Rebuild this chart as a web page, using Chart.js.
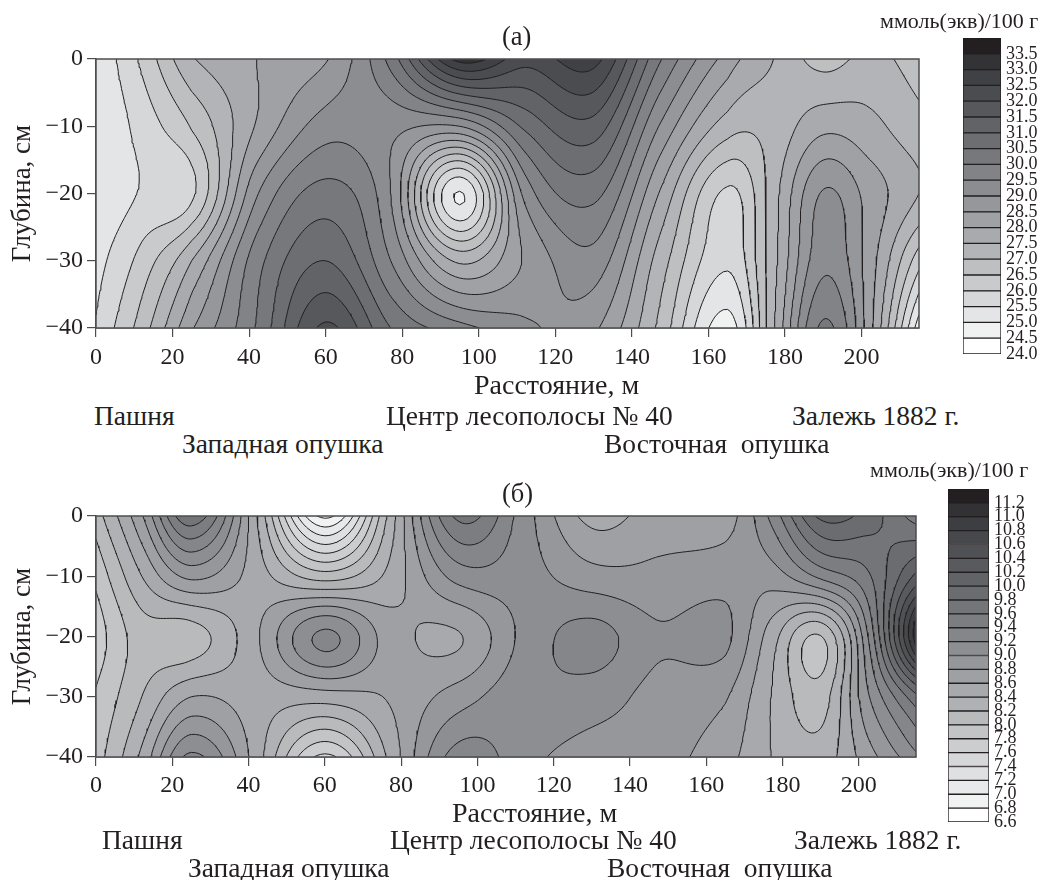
<!DOCTYPE html>
<html>
<head>
<meta charset="utf-8">
<script src="https://cdn.jsdelivr.net/npm/chart.js@4"></script>
<style>
  body { margin: 0; background: #fff; width: 1043px; height: 880px; overflow: hidden; position: relative; }
  canvas { position: absolute; }
  .t { position: absolute; font-family: "Liberation Serif", serif; color: #231f20; white-space: pre; line-height: 1; transform: translateY(-50%); font-size: 27.5px; }
  .n { font-size: 26.5px; }
  .d { font-size: 28px; }
  .u { font-size: 22px; }
</style>
</head>
<body>
<canvas id="panel-a" width="930" height="398" style="left:0;top:0"></canvas>
<canvas id="bar-a" width="93" height="350" style="left:950px;top:20px"></canvas>
<canvas id="panel-b" width="930" height="356" style="left:0;top:470px"></canvas>
<canvas id="bar-b" width="108" height="370" style="left:935px;top:470px"></canvas>

<div class="t n" style="left:502px;top:36px">(а)</div>
<div class="t u" style="left:880px;top:21px">ммоль(экв)/100 г</div>
<div class="t d" style="left:474px;top:385px">Расстояние, м</div>
<div class="t" style="left:94px;top:416px">Пашня</div>
<div class="t" style="left:386px;top:416px">Центр лесополосы № 40</div>
<div class="t" style="left:792px;top:416px">Залежь 1882 г.</div>
<div class="t" style="left:182px;top:444px">Западная опушка</div>
<div class="t" style="left:604px;top:444px">Восточная  опушка</div>

<div class="t n" style="left:502px;top:493px">(б)</div>
<div class="t u" style="left:870px;top:470px">ммоль(экв)/100 г</div>
<div class="t d" style="left:452px;top:813px">Расстояние, м</div>
<div class="t" style="left:102px;top:840px">Пашня</div>
<div class="t" style="left:390px;top:840px">Центр лесополосы № 40</div>
<div class="t" style="left:794px;top:840px">Залежь 1882 г.</div>
<div class="t" style="left:188px;top:868px">Западная опушка</div>
<div class="t" style="left:607px;top:868px">Восточная  опушка</div>

<script>
// sampling positions along the transect (m) and depths (cm)
const distance = [0, 12, 25, 42, 60, 77, 95, 112, 130, 147, 165, 177, 190, 202, 215];
const depth = [0, -10, -20, -30, -40];

// panel (a), one row per depth
const a0 = [25.05, 26.1, 27.45, 28.0, 28.45, 30.2, 33.2, 32.2, 32.7, 30.1, 28.3, 27.5, 26.8, 27.15, 26.75];
const a10 = [25.0, 25.7, 26.55, 28.05, 29.25, 29.15, 29.0, 30.6, 31.3, 29.0, 27.25, 27.2, 27.85, 27.65, 27.15];
const a20 = [25.05, 25.55, 25.9, 28.95, 30.2, 29.0, 24.96, 29.15, 30.15, 28.0, 25.9, 27.3, 29.05, 28.3, 27.5];
const a30 = [25.3, 26.2, 27.5, 29.8, 31.0, 29.5, 27.4, 28.55, 29.3, 27.3, 25.6, 27.35, 29.35, 28.25, 26.2];
const a40 = [25.55, 26.75, 28.45, 30.05, 32.1, 30.5, 29.7, 29.1, 28.6, 26.9, 24.75, 27.45, 30.1, 28.2, 24.7];

// panel (b)
const b0 = [8.1, 8.78, 9.75, 8.42, 6.75, 8.27, 9.65, 9.1, 8.53, 8.7, 8.7, 9.25, 10.05, 9.92, 9.5];
const b10 = [7.85, 8.4, 8.85, 8.5, 8.1, 8.46, 9.08, 9.08, 8.88, 8.85, 8.92, 8.9, 9.25, 9.55, 10.25];
const b20 = [7.7, 8.1, 8.1, 8.57, 9.25, 8.7, 8.585, 9.05, 9.28, 9.03, 9.05, 8.5, 7.99, 9.15, 11.1];
const b30 = [7.82, 8.2, 8.6, 8.5, 8.5, 8.62, 8.9, 9.13, 9.1, 8.93, 8.82, 8.4, 8.1, 8.95, 9.75];
const b40 = [7.9, 8.45, 9.25, 8.5, 7.55, 8.45, 9.3, 9.07, 8.9, 8.88, 8.68, 8.4, 8.3, 8.7, 9.15];

// contour levels, also the colour bar ticks
const levelsA = [24.0, 24.5, 25.0, 25.5, 26.0, 26.5, 27.0, 27.5, 28.0, 28.5, 29.0, 29.5, 30.0, 30.5, 31.0, 31.5, 32.0, 32.5, 33.0, 33.5];
const levelsB = [6.6, 6.8, 7.0, 7.2, 7.4, 7.6, 7.8, 8.0, 8.2, 8.4, 8.6, 8.8, 9.0, 9.2, 9.4, 9.6, 9.8, 10.0, 10.2, 10.4, 10.6, 10.8, 11.0, 11.2];
const stepA = 0.5;
const stepB = 0.2;

const colorsA = ['#ffffff', '#f0f1f1', '#e4e5e6', '#d6d7d8', '#c9cacc', '#bebfc1', '#b3b4b7', '#a9aaad', '#a0a1a4', '#96979a',
  '#8c8d90', '#828386', '#77787b', '#6c6e71', '#616366', '#56585b', '#4a4c4f', '#3f4144', '#333234', '#231f20'];
const colorsB = ['#ffffff', '#f1f2f2', '#e8e9ea', '#dfe0e1', '#d6d7d8', '#cccdcf', '#c3c4c6', '#b9babc', '#b0b1b4', '#a8a9ac',
  '#9fa0a3', '#96979a', '#8d8e91', '#85868a', '#7c7d80', '#737578', '#6a6c6f', '#616366', '#585a5d', '#4f5154',
  '#46484b', '#3d3e41', '#323133', '#231f20'];

const INK = '#231f20';
const FRAME = '#4d4d4f';
const SERIF = 'Liberation Serif';
const FINE = 16; // subdivisions between two sampling positions

const cubic = (p0, p1, p2, p3, t) =>
  0.5 * (2 * p1 + (p2 - p0) * t + (2 * p0 - 5 * p1 + 4 * p2 - p3) * t * t + (3 * p1 - p0 - 3 * p2 + p3) * t * t * t);

function resample(list) {
  const out = [];
  const n = list.length;
  for (let i = 0; i < n - 1; i++) {
    const p0 = i > 0 ? list[i - 1] : 2 * list[0] - list[1];
    const p3 = i < n - 2 ? list[i + 2] : 2 * list[n - 1] - list[n - 2];
    for (let k = 0; k < FINE; k++) out.push(cubic(p0, list[i], list[i + 1], p3, k / FINE));
  }
  out.push(list[n - 1]);
  return out;
}

function linearPositions(list) {
  const out = [];
  for (let i = 0; i < list.length - 1; i++) {
    for (let k = 0; k < FINE; k++) out.push(list[i] + (list[i + 1] - list[i]) * k / FINE);
  }
  out.push(list[list.length - 1]);
  return out;
}

function fineGrid(rows) {
  const across = rows.map(resample);
  const cols = across[0].length;
  const columns = [];
  for (let c = 0; c < cols; c++) columns.push(resample(across.map((r) => r[c])));
  return columns; // columns[i][j]
}

const fineX = linearPositions(distance);
const fineY = linearPositions(depth);

// marching squares, one polyline set per level, NaN points break the line
function isoLine(grid, level) {
  const nx = fineX.length, ny = fineY.length;
  const links = new Map();
  const point = new Map();
  const crossing = (id, x1, y1, v1, x2, y2, v2) => {
    const t = (level - v1) / (v2 - v1);
    point.set(id, { x: x1 + (x2 - x1) * t, y: y1 + (y2 - y1) * t });
    return id;
  };
  const link = (p, q) => {
    if (!links.has(p)) links.set(p, []);
    if (!links.has(q)) links.set(q, []);
    links.get(p).push(q);
    links.get(q).push(p);
  };
  for (let i = 0; i < nx - 1; i++) {
    for (let j = 0; j < ny - 1; j++) {
      const a = grid[i][j], b = grid[i + 1][j], c = grid[i + 1][j + 1], d = grid[i][j + 1];
      const top = (a >= level) !== (b >= level) ? crossing('h' + i + '_' + j, fineX[i], fineY[j], a, fineX[i + 1], fineY[j], b) : null;
      const right = (b >= level) !== (c >= level) ? crossing('v' + (i + 1) + '_' + j, fineX[i + 1], fineY[j], b, fineX[i + 1], fineY[j + 1], c) : null;
      const bottom = (d >= level) !== (c >= level) ? crossing('h' + i + '_' + (j + 1), fineX[i], fineY[j + 1], d, fineX[i + 1], fineY[j + 1], c) : null;
      const left = (a >= level) !== (d >= level) ? crossing('v' + i + '_' + j, fineX[i], fineY[j], a, fineX[i], fineY[j + 1], d) : null;
      const found = [top, right, bottom, left].filter((e) => e !== null);
      if (found.length === 2) {
        link(found[0], found[1]);
      } else if (found.length === 4) {
        const centre = (a + b + c + d) / 4;
        if ((a >= level) === (centre >= level)) {
          link(top, right);
          link(bottom, left);
        } else {
          link(left, top);
          link(right, bottom);
        }
      }
    }
  }
  const seen = new Set();
  const out = [];
  const walk = (start, closed) => {
    let cur = start;
    while (cur && !seen.has(cur)) {
      seen.add(cur);
      out.push(point.get(cur));
      cur = links.get(cur).find((e) => !seen.has(e));
    }
    if (closed) out.push(point.get(start));
    out.push({ x: NaN, y: NaN });
  };
  for (const [id, ends] of links) if (ends.length === 1 && !seen.has(id)) walk(id, false);
  for (const [id] of links) if (!seen.has(id)) walk(id, true);
  return out;
}

// filled bands, painted from the lowest level up
function bandPlugin(grid, levels, colors) {
  return {
    id: 'bands',
    beforeDatasetsDraw(chart) {
      const { ctx, chartArea, scales } = chart;
      const px = fineX.map((v) => scales.x.getPixelForValue(v));
      const py = fineY.map((v) => scales.y.getPixelForValue(v));
      ctx.save();
      ctx.fillStyle = colors[0];
      ctx.fillRect(chartArea.left, chartArea.top, chartArea.width, chartArea.height);
      levels.forEach((level, n) => {
        if (n === 0) return;
        ctx.beginPath();
        for (let i = 0; i < px.length - 1; i++) {
          for (let j = 0; j < py.length - 1; j++) {
            const cx = [px[i], px[i + 1], px[i + 1], px[i]];
            const cy = [py[j], py[j], py[j + 1], py[j + 1]];
            const cv = [grid[i][j], grid[i + 1][j], grid[i + 1][j + 1], grid[i][j + 1]];
            if (Math.max(...cv) < level) continue;
            let first = true;
            for (let k = 0; k < 4; k++) {
              const m = (k + 1) % 4;
              const inK = cv[k] >= level, inM = cv[m] >= level;
              if (inK) {
                if (first) ctx.moveTo(cx[k], cy[k]); else ctx.lineTo(cx[k], cy[k]);
                first = false;
              }
              if (inK !== inM) {
                const t = (level - cv[k]) / (cv[m] - cv[k]);
                const x = cx[k] + (cx[m] - cx[k]) * t, y = cy[k] + (cy[m] - cy[k]) * t;
                if (first) ctx.moveTo(x, y); else ctx.lineTo(x, y);
                first = false;
              }
            }
            if (!first) ctx.closePath();
          }
        }
        ctx.fillStyle = colors[n];
        ctx.fill();
      });
      ctx.restore();
    },
    afterDatasetsDraw(chart) {
      const { ctx, chartArea } = chart;
      ctx.save();
      ctx.strokeStyle = FRAME;
      ctx.lineWidth = 1.5;
      ctx.strokeRect(chartArea.left, chartArea.top, chartArea.width, chartArea.height);
      ctx.restore();
    }
  };
}

function contourChart(id, rows, levels, colors, pad, axisHeight, tickPad) {
  const grid = fineGrid(rows);
  const datasets = levels.slice(1).map((level) => ({
    label: String(level),
    data: isoLine(grid, level),
    showLine: true,
    borderColor: INK,
    borderWidth: 1,
    pointRadius: 0,
    tension: 0
  }));
  new Chart(document.getElementById(id), {
    type: 'scatter',
    data: { datasets },
    options: {
      responsive: false,
      animation: false,
      events: [],
      layout: { padding: { top: pad.top, right: pad.right } },
      plugins: { legend: { display: false }, tooltip: { enabled: false } },
      scales: {
        x: {
          type: 'linear', min: 0, max: 215,
          afterFit: (s) => { s.height = axisHeight; },
          border: { color: FRAME, width: 1.5 },
          grid: { drawOnChartArea: false, tickLength: 9, color: FRAME, lineWidth: 1.2 },
          ticks: { stepSize: 20, includeBounds: false, maxRotation: 0, color: INK, padding: tickPad, font: { family: SERIF, size: 24 } }
        },
        y: {
          type: 'linear', min: -40, max: 0,
          afterFit: (s) => { s.width = 96; },
          border: { color: FRAME, width: 1.5 },
          grid: { drawOnChartArea: false, tickLength: 9, color: FRAME, lineWidth: 1.2 },
          ticks: {
            stepSize: 10, color: INK, padding: 4, font: { family: SERIF, size: 24 },
            callback: (v) => (v < 0 ? '\u2212' + Math.abs(v) : String(v))
          },
          title: { display: true, text: 'Глубина, см', color: INK, padding: { top: 7, bottom: 0 }, font: { family: SERIF, size: 27 } }
        }
      }
    },
    plugins: [bandPlugin(grid, levels, colors)]
  });
}

function colorBar(id, levels, step, colors, pad, axisWidth) {
  const top = levels[levels.length - 1] + step;
  new Chart(document.getElementById(id), {
    type: 'bar',
    data: {
      labels: [''],
      datasets: levels.map((level, n) => ({
        data: [[level, level + step]],
        backgroundColor: colors[n],
        borderColor: INK,
        borderWidth: 1,
        borderSkipped: false,
        grouped: false,
        barPercentage: 1,
        categoryPercentage: 1
      }))
    },
    options: {
      responsive: false,
      animation: false,
      events: [],
      layout: { padding: pad },
      plugins: { legend: { display: false }, tooltip: { enabled: false } },
      scales: {
        x: { display: false },
        y: {
          position: 'right', min: levels[0], max: top,
          afterFit: (s) => { s.width = axisWidth; },
          afterBuildTicks: (s) => { s.ticks = levels.map((value) => ({ value })); },
          border: { display: false },
          grid: { display: false, drawTicks: false },
          ticks: {
            autoSkip: false, color: INK, padding: 5, font: { family: SERIF, size: 18 },
            callback: (v) => Number(v).toFixed(1)
          }
        }
      }
    }
  });
}

contourChart('panel-a', [a0, a10, a20, a30, a40], levelsA, colorsA, { top: 59, right: 11 }, 70, 6);
contourChart('panel-b', [b0, b10, b20, b30, b40], levelsB, colorsB, { top: 46, right: 14 }, 69, 5);
colorBar('bar-a', levelsA, stepA, colorsA, { left: 13, top: 18, bottom: 16 }, 42);
colorBar('bar-b', levelsB, stepB, colorsB, { left: 13, top: 19, bottom: 18 }, 54);
</script>
</body>
</html>
